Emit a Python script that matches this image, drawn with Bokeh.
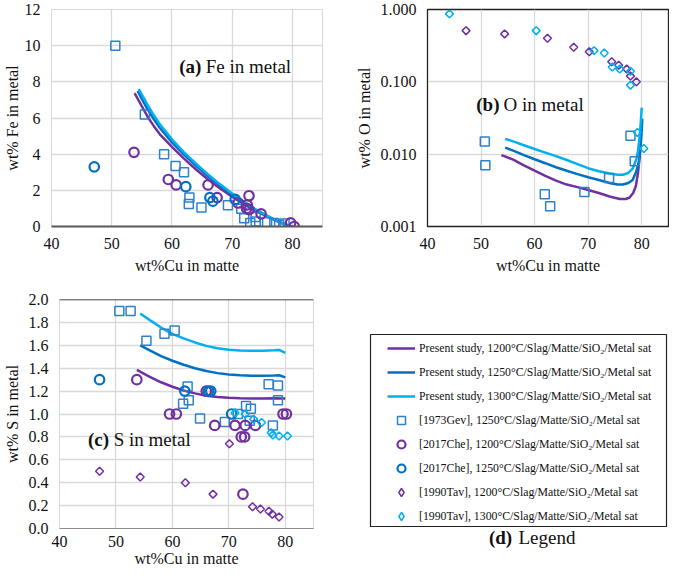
from bokeh.plotting import figure
from bokeh.models import Range1d, FixedTicker, PrintfTickFormatter, Label, Legend, LegendItem, Span
from bokeh.layouts import column, row
from bokeh.embed import file_html
from bokeh.resources import INLINE

FONT = "Liberation Serif"
PURPLE = "#7030A0"
BLUE = "#0070C0"
LIGHT = "#00B0F0"
SQ = "#2E80CC"
GRID = "#D9D9D9"
TXT = "#111111"

x_ticks = [40, 50, 60, 70, 80]
fe_ticks = [0, 2, 4, 6, 8, 10, 12]
o_ticks = [0.001, 0.01, 0.1, 1.0]
s_ticks = [0.0, 0.2, 0.4, 0.6, 0.8, 1.0, 1.2, 1.4, 1.6, 1.8, 2.0]

# ---------------- (a) Fe in metal ----------------
fe_1200_x = [53.8, 55.0, 56.0, 57.0, 58.0, 60.0, 62.0, 64.0, 66.0, 68.0, 70.0, 72.0, 74.0, 76.0, 78.0, 79.5, 80.0]
fe_1200_y = [7.38, 6.65, 6.05, 5.55, 5.10, 4.40, 3.75, 3.15, 2.60, 2.10, 1.65, 1.22, 0.85, 0.52, 0.22, 0.05, 0.0]
fe_1250_x = [54.3, 55.0, 56.0, 57.0, 58.0, 60.0, 62.0, 64.0, 66.0, 68.0, 70.0, 72.0, 74.0, 76.0, 78.0, 79.5]
fe_1250_y = [7.50, 7.05, 6.45, 5.93, 5.45, 4.65, 3.97, 3.35, 2.78, 2.25, 1.75, 1.30, 0.90, 0.55, 0.22, 0.03]
fe_1300_x = [54.5, 55.0, 56.0, 57.0, 58.0, 60.0, 62.0, 64.0, 66.0, 68.0, 70.0, 72.0, 74.0, 76.0, 78.0, 79.3]
fe_1300_y = [7.60, 7.30, 6.70, 6.15, 5.65, 4.82, 4.10, 3.47, 2.88, 2.33, 1.82, 1.35, 0.93, 0.56, 0.22, 0.02]

fe_gev_x = [50.6, 55.5, 58.7, 60.6, 62.0, 62.9, 62.8, 64.9, 69.3, 71.5, 72.0, 73.0, 73.9, 73.9, 75.8, 77.0, 77.8, 78.7]
fe_gev_y = [10.0, 6.2, 4.0, 3.35, 3.0, 1.6, 1.25, 1.05, 1.18, 0.98, 0.45, 0.2, 0.52, 0.27, 0.23, 0.2, 0.1, 0.16]
fe_che1200_x = [53.7, 59.4, 60.7, 66.0, 67.5, 71.0, 72.8, 72.5, 72.4, 72.8, 74.8, 79.7, 80.3]
fe_che1200_y = [4.1, 2.6, 2.3, 2.3, 1.6, 1.3, 1.7, 1.2, 1.0, 0.93, 0.70, 0.2, 0.0]
fe_che1250_x = [47.1, 62.3, 66.3, 66.8, 70.5]
fe_che1250_y = [3.3, 2.2, 1.6, 1.4, 1.5]

# ---------------- (b) O in metal ----------------
o_1200_x = [53.8, 56.0, 58.0, 60.0, 62.0, 64.0, 66.0, 68.0, 70.0, 72.0, 74.0, 75.9, 77.0, 77.7, 78.4, 78.9, 79.3, 79.6, 79.85]
o_1200_y = [0.0097, 0.0084, 0.0070, 0.0059, 0.0050, 0.0043, 0.0038, 0.0035, 0.0032, 0.0029, 0.0026, 0.0024, 0.0024, 0.0025, 0.0029, 0.0036, 0.0055, 0.009, 0.019]
o_1250_x = [54.5, 56.0, 58.0, 60.0, 62.0, 64.0, 66.0, 68.0, 70.0, 72.0, 74.0, 75.5, 76.5, 77.5, 78.3, 79.0, 79.5, 79.8, 80.0, 80.1]
o_1250_y = [0.0123, 0.0112, 0.0097, 0.0085, 0.0075, 0.0066, 0.0059, 0.0053, 0.0048, 0.0044, 0.0040, 0.0038, 0.0038, 0.0040, 0.0044, 0.0058, 0.0081, 0.013, 0.021, 0.031]
o_1300_x = [54.5, 56.0, 58.0, 60.0, 62.0, 64.0, 66.0, 68.0, 70.0, 72.0, 74.0, 75.5, 76.5, 77.5, 78.3, 79.0, 79.3, 79.6, 79.8, 80.0]
o_1300_y = [0.0163, 0.0150, 0.0133, 0.0118, 0.0105, 0.0094, 0.0083, 0.0073, 0.0064, 0.0058, 0.0054, 0.0052, 0.0052, 0.0055, 0.0063, 0.0085, 0.011, 0.017, 0.026, 0.044]

o_gev_x = [50.7, 50.8, 61.9, 62.9, 69.3, 73.9, 77.9, 78.7]
o_gev_y = [0.015, 0.007, 0.0028, 0.0019, 0.003, 0.0047, 0.018, 0.008]
o_tav1200_x = [47.2, 54.4, 62.4, 67.3, 70.2, 74.4, 75.7, 77.2, 77.9, 79.0]
o_tav1200_y = [0.51, 0.46, 0.40, 0.30, 0.26, 0.19, 0.17, 0.15, 0.12, 0.10]
o_tav1300_x = [44.1, 60.3, 71.1, 73.0, 74.5, 75.9, 77.9, 77.9, 79.2, 80.4]
o_tav1300_y = [0.87, 0.51, 0.27, 0.25, 0.16, 0.15, 0.14, 0.09, 0.020, 0.012]

# ---------------- (c) S in metal ----------------
s_1200_x = [53.7, 56.0, 58.0, 60.0, 62.0, 64.0, 66.0, 68.0, 70.0, 72.0, 74.0, 76.0, 78.0, 80.0]
s_1200_y = [1.385, 1.325, 1.277, 1.238, 1.205, 1.18, 1.16, 1.148, 1.142, 1.138, 1.136, 1.136, 1.137, 1.135]
s_1250_x = [54.3, 56.0, 58.0, 60.0, 62.0, 64.0, 66.0, 68.0, 70.0, 72.0, 74.0, 76.0, 78.0, 78.9, 80.0]
s_1250_y = [1.60, 1.555, 1.505, 1.465, 1.43, 1.40, 1.375, 1.357, 1.345, 1.338, 1.335, 1.335, 1.337, 1.338, 1.32]
s_1300_x = [54.3, 56.0, 58.0, 60.0, 62.0, 64.0, 66.0, 68.0, 70.0, 72.0, 74.0, 76.0, 78.0, 78.9, 80.0]
s_1300_y = [1.877, 1.82, 1.755, 1.70, 1.66, 1.625, 1.595, 1.575, 1.562, 1.555, 1.552, 1.553, 1.557, 1.56, 1.533]

s_gev_x = [50.6, 52.6, 55.4, 58.6, 60.4, 62.7, 61.9, 62.9, 64.9, 69.3, 71.6, 73.05, 73.9, 73.7, 77.05, 78.7, 78.7, 77.8]
s_gev_y = [1.9, 1.9, 1.64, 1.70, 1.73, 1.24, 1.09, 1.12, 0.96, 0.93, 1.0, 1.07, 1.045, 0.94, 1.26, 1.25, 1.12, 0.90]
s_che1200_x = [53.7, 59.5, 60.7, 66.0, 67.5, 71.1, 72.9, 74.7, 72.2, 72.8, 72.5, 79.6, 80.2]
s_che1200_y = [1.3, 1.0, 1.0, 1.2, 0.9, 0.9, 0.9, 0.9, 0.8, 0.8, 0.3, 1.0, 1.0]
s_che1250_x = [47.1, 62.2, 66.4, 66.8, 70.5]
s_che1250_y = [1.3, 1.2, 1.2, 1.2, 1.0]
s_tav1200_x = [47.1, 54.3, 62.3, 67.2, 70.1, 74.2, 75.6, 77.1, 77.7, 78.9]
s_tav1200_y = [0.50, 0.45, 0.40, 0.30, 0.74, 0.19, 0.17, 0.15, 0.125, 0.10]
s_tav1300_x = [71.1, 72.9, 74.4, 75.8, 77.5, 77.8, 78.9, 80.4]
s_tav1300_y = [1.01, 1.0, 0.955, 0.925, 0.836, 0.816, 0.808, 0.808]

legend_labels = [
    "Present study, 1200\u00b0C/Slag/Matte/SiO\u2082/Metal sat",
    "Present study, 1250\u00b0C/Slag/Matte/SiO\u2082/Metal sat",
    "Present study, 1300\u00b0C/Slag/Matte/SiO\u2082/Metal sat",
    "[1973Gev], 1250\u00b0C/Slag/Matte/SiO\u2082/Metal sat",
    "[2017Che], 1200\u00b0C/Slag/Matte/SiO\u2082/Metal sat",
    "[2017Che], 1250\u00b0C/Slag/Matte/SiO\u2082/Metal sat",
    "[1990Tav], 1200\u00b0C/Slag/Matte/SiO\u2082/Metal sat",
    "[1990Tav], 1300\u00b0C/Slag/Matte/SiO\u2082/Metal sat",
]

LINE_W = 2.5


def make_fig(width, height, borders, y_range, y_type="linear"):
    l, r, t, b = borders
    p = figure(width=width, height=height, x_range=Range1d(40, 85), y_range=y_range,
               y_axis_type=y_type, output_backend="svg", toolbar_location=None,
               min_border_left=l, min_border_right=r, min_border_top=t, min_border_bottom=b)
    p.xaxis.ticker = FixedTicker(ticks=x_ticks)
    p.axis.major_tick_line_color = None
    p.axis.minor_tick_line_color = None
    p.axis.major_label_text_font = FONT
    p.axis.major_label_text_font_size = "16px"
    p.axis.major_label_text_color = TXT
    p.axis.axis_label_text_font = FONT
    p.axis.axis_label_text_font_size = "16px"
    p.axis.axis_label_text_font_style = "normal"
    p.axis.axis_label_text_color = TXT
    p.grid.grid_line_color = GRID
    p.grid.grid_line_width = 1.3
    p.xaxis.axis_label = "wt%Cu in matte"
    return p


def add_title(p, tag, rest, x_tag, x_rest, y):
    p.add_layout(Label(x=x_tag, y=y, text=tag, text_font=FONT, text_font_size="19px",
                       text_font_style="bold", text_baseline="middle", text_color=TXT))
    p.add_layout(Label(x=x_rest, y=y, text=rest, text_font=FONT, text_font_size="19px",
                       text_baseline="middle", text_color=TXT))


def lines3(p, xs, ys):
    return [p.line(x, y, line_color=c, line_width=LINE_W) for x, y, c in zip(xs, ys, [PURPLE, BLUE, LIGHT])]


def squares(p, x, y):
    return p.scatter(x, y, marker="square", size=9, fill_color=None, line_color=SQ, line_width=1.5)


def circles(p, x, y, c):
    return p.scatter(x, y, marker="circle", size=9.5, fill_color=None, line_color=c, line_width=2.2)


def diamonds(p, x, y, c):
    return p.scatter(x, y, marker="square", angle=0.785398, size=5.6, fill_color=None, line_color=c, line_width=1.5)


def key_diamonds(p, x, y, c):
    return p.scatter(x, y, marker="diamond", size=10, fill_color=None, line_color=c, line_width=1.5)


# ---- figure (a)
fa = make_fig(340, 282, (51, 18, 9, 56), Range1d(0, 12))
fa.yaxis.ticker = FixedTicker(ticks=fe_ticks)
fa.yaxis.axis_label = "wt% Fe in metal"
fa.yaxis.axis_label_standoff = 1
fa.outline_line_color = GRID
fa.xaxis.axis_line_color = "#595959"
fa.xaxis.axis_line_width = 2
fa.yaxis.axis_line_color = None
lines3(fa, [fe_1200_x, fe_1250_x, fe_1300_x], [fe_1200_y, fe_1250_y, fe_1300_y])
squares(fa, fe_gev_x, fe_gev_y)
circles(fa, fe_che1200_x, fe_che1200_y, PURPLE)
circles(fa, fe_che1250_x, fe_che1250_y, BLUE)
add_title(fa, "(a)", "Fe in metal", 61.2, 65.6, 8.83)

# ---- figure (b)
fb = make_fig(329, 282, (87, 1, 9, 53), Range1d(0.001, 1.0), y_type="log")
fb.yaxis.ticker = FixedTicker(ticks=o_ticks)
fb.yaxis.formatter = PrintfTickFormatter(format="%.3f")
fb.yaxis.axis_label = "wt% O in metal"
fb.outline_line_color = "#222222"
fb.outline_line_width = 1.3
fb.xaxis.axis_line_color = "#222222"
fb.yaxis.axis_line_color = "#222222"
lines3(fb, [o_1200_x, o_1250_x, o_1300_x], [o_1200_y, o_1250_y, o_1300_y])
squares(fb, o_gev_x, o_gev_y)
diamonds(fb, o_tav1200_x, o_tav1200_y, PURPLE)
diamonds(fb, o_tav1300_x, o_tav1300_y, LIGHT)
add_title(fb, "(b)", "O in metal", 49.1, 54.2, 0.0486)

# ---- figure (c)
fc = make_fig(340, 287, (51, 27, 17, 37), Range1d(0, 2.0))
fc.yaxis.ticker = FixedTicker(ticks=s_ticks)
fc.yaxis.formatter = PrintfTickFormatter(format="%.1f")
fc.yaxis.axis_label = "wt% S in metal"
fc.outline_line_color = GRID
fc.xaxis.axis_line_color = "#8C8C8C"
fc.yaxis.axis_line_color = None
fc.xaxis.major_label_standoff = 1
fc.xaxis.axis_label_standoff = 0
fc.add_layout(Span(location=2.0, dimension="width", line_color="#222222", line_width=1.5))
lines3(fc, [s_1200_x, s_1250_x, s_1300_x], [s_1200_y, s_1250_y, s_1300_y])
squares(fc, s_gev_x, s_gev_y)
circles(fc, s_che1200_x, s_che1200_y, PURPLE)
circles(fc, s_che1250_x, s_che1250_y, BLUE)
diamonds(fc, s_tav1200_x, s_tav1200_y, PURPLE)
diamonds(fc, s_tav1300_x, s_tav1300_y, LIGHT)
add_title(fc, "(c)", "S in metal", 45.05, 49.6, 0.78)

# ---- panel (d): legend box; its key glyphs reuse the S series (kept outside the box's view range)
fd = figure(width=329, height=245, x_range=Range1d(0, 1), y_range=Range1d(0, 1),
            output_backend="svg", toolbar_location=None,
            min_border_left=30, min_border_right=3, min_border_top=52, min_border_bottom=1)
fd.axis.visible = False
fd.grid.visible = False
fd.outline_line_color = "#222222"
fd.outline_line_width = 1.2
k_lines = lines3(fd, [s_1200_x, s_1250_x, s_1300_x], [s_1200_y, s_1250_y, s_1300_y])
k4 = squares(fd, s_gev_x, s_gev_y)
k5 = circles(fd, s_che1200_x, s_che1200_y, PURPLE)
k6 = circles(fd, s_che1250_x, s_che1250_y, BLUE)
k7 = key_diamonds(fd, s_tav1200_x, s_tav1200_y, PURPLE)
k8 = key_diamonds(fd, s_tav1300_x, s_tav1300_y, LIGHT)
keys = k_lines + [k4, k5, k6, k7, k8]
items = [LegendItem(label=lab, renderers=[r]) for lab, r in zip(legend_labels, keys)]
leg = Legend(items=items, location=(17, 0), padding=0, margin=0, border_line_color=None,
             background_fill_alpha=0, glyph_width=28, glyph_height=20, label_height=20,
             spacing=4, label_standoff=4, label_text_font=FONT, label_text_font_size="11.8px",
             label_text_color=TXT)
fd.add_layout(leg)

# ---- caption "(d) Legend" under the box
fe = figure(width=329, height=42, x_range=Range1d(0, 1), y_range=Range1d(0, 1),
            output_backend="svg", toolbar_location=None, min_border=0)
fe.axis.visible = False
fe.grid.visible = False
fe.outline_line_color = None
fe.add_layout(Label(x=0.400, y=0.76, text="(d)", text_font=FONT, text_font_size="19px",
                    text_font_style="bold", text_baseline="middle", text_color=TXT))
fe.add_layout(Label(x=0.500, y=0.76, text="Legend", text_font=FONT, text_font_size="19px",
                    text_baseline="middle", text_color=TXT))

layout = column(row(fa, fb), row(fc, column(fd, fe)))
open("out.html", "w").write(file_html(layout, INLINE))
